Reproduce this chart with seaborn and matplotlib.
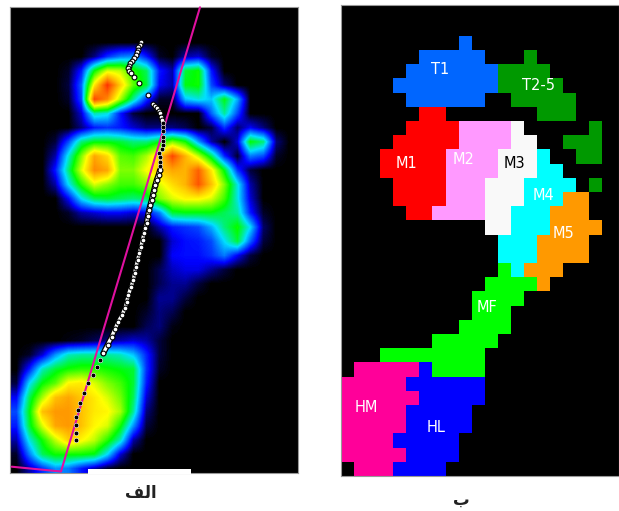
import numpy as np
import matplotlib
matplotlib.use("Agg")
import matplotlib.pyplot as plt
import seaborn as sns
from matplotlib.colors import LinearSegmentedColormap, ListedColormap
from matplotlib.patches import Rectangle

W, H = 619, 511

# peak pressure per sensor cell, 0-100
pressure = [
    [0, 0, 0, 0, 0, 0, 0, 0, 0, 0, 0, 0, 0, 0, 0, 0, 0, 0, 0, 0, 0, 0],
    [0, 0, 0, 0, 0, 0, 0, 0, 0, 0, 0, 0, 0, 0, 0, 0, 0, 0, 0, 0, 0, 0],
    [0, 0, 0, 0, 0, 0, 0, 0, 0, 0, 0, 0, 0, 0, 0, 0, 0, 0, 0, 0, 0, 0],
    [0, 0, 0, 0, 0, 0, 6, 16, 22, 24, 14, 2, 0, 8, 10, 2, 0, 0, 0, 0, 0, 0],
    [0, 0, 0, 0, 2, 14, 45, 62, 60, 48, 40, 14, 8, 42, 46, 14, 0, 0, 0, 0, 0, 0],
    [0, 0, 0, 0, 3, 20, 68, 95, 72, 52, 42, 12, 8, 44, 46, 18, 6, 0, 0, 0, 0, 0],
    [0, 0, 0, 0, 2, 18, 92, 82, 58, 36, 16, 2, 2, 28, 32, 28, 44, 26, 0, 0, 0, 0],
    [0, 0, 0, 0, 0, 10, 35, 32, 14, 3, 0, 0, 0, 0, 0, 20, 36, 18, 0, 0, 0, 0],
    [0, 0, 0, 0, 0, 6, 14, 16, 14, 10, 6, 6, 6, 4, 0, 3, 16, 5, 12, 6, 0, 0],
    [0, 0, 0, 3, 18, 38, 44, 44, 42, 38, 38, 44, 55, 46, 25, 8, 0, 10, 45, 38, 6, 0],
    [0, 0, 0, 8, 32, 55, 78, 70, 52, 50, 58, 72, 92, 76, 60, 40, 15, 2, 22, 18, 2, 0],
    [0, 0, 0, 14, 38, 62, 82, 78, 55, 55, 65, 72, 78, 76, 88, 68, 44, 16, 3, 0, 0, 0],
    [0, 0, 0, 8, 30, 48, 62, 56, 50, 50, 55, 62, 70, 76, 90, 74, 55, 32, 8, 0, 0, 0],
    [0, 0, 0, 0, 12, 30, 40, 42, 40, 38, 40, 55, 62, 66, 66, 62, 50, 32, 10, 0, 0, 0],
    [0, 0, 0, 0, 2, 8, 10, 12, 12, 10, 12, 22, 42, 44, 44, 44, 40, 36, 14, 2, 0, 0],
    [0, 0, 0, 0, 0, 0, 0, 0, 0, 0, 0, 8, 14, 16, 18, 26, 38, 46, 30, 5, 0, 0],
    [0, 0, 0, 0, 0, 0, 0, 0, 0, 0, 0, 0, 10, 13, 14, 18, 30, 42, 20, 3, 0, 0],
    [0, 0, 0, 0, 0, 0, 0, 0, 0, 0, 0, 0, 12, 13, 13, 16, 22, 12, 3, 0, 0, 0],
    [0, 0, 0, 0, 0, 0, 0, 0, 0, 0, 0, 4, 9, 11, 11, 7, 3, 0, 0, 0, 0, 0],
    [0, 0, 0, 0, 0, 0, 0, 0, 0, 0, 0, 4, 7, 7, 3, 0, 0, 0, 0, 0, 0, 0],
    [0, 0, 0, 0, 0, 0, 0, 0, 0, 0, 0, 7, 7, 3, 0, 0, 0, 0, 0, 0, 0, 0],
    [0, 0, 0, 0, 0, 0, 0, 0, 0, 0, 2, 6, 4, 0, 0, 0, 0, 0, 0, 0, 0, 0],
    [0, 0, 0, 0, 0, 0, 0, 0, 0, 0, 4, 6, 1, 0, 0, 0, 0, 0, 0, 0, 0, 0],
    [0, 0, 0, 0, 1, 2, 4, 6, 8, 10, 8, 3, 0, 0, 0, 0, 0, 0, 0, 0, 0, 0],
    [0, 2, 10, 24, 34, 36, 36, 36, 34, 28, 15, 3, 0, 0, 0, 0, 0, 0, 0, 0, 0, 0],
    [0, 14, 34, 42, 46, 48, 48, 46, 44, 42, 16, 2, 0, 0, 0, 0, 0, 0, 0, 0, 0, 0],
    [3, 30, 45, 52, 66, 68, 62, 55, 50, 42, 14, 0, 0, 0, 0, 0, 0, 0, 0, 0, 0, 0],
    [12, 40, 58, 74, 78, 73, 68, 62, 54, 40, 10, 0, 0, 0, 0, 0, 0, 0, 0, 0, 0, 0],
    [18, 44, 74, 80, 80, 74, 68, 66, 58, 36, 6, 0, 0, 0, 0, 0, 0, 0, 0, 0, 0, 0],
    [14, 42, 62, 78, 80, 74, 66, 62, 46, 24, 3, 0, 0, 0, 0, 0, 0, 0, 0, 0, 0, 0],
    [8, 32, 46, 60, 72, 66, 60, 48, 34, 8, 0, 0, 0, 0, 0, 0, 0, 0, 0, 0, 0, 0],
    [2, 22, 40, 46, 46, 46, 44, 30, 10, 0, 0, 0, 0, 0, 0, 0, 0, 0, 0, 0, 0, 0],
    [0, 8, 16, 24, 22, 14, 8, 2, 0, 0, 0, 0, 0, 0, 0, 0, 0, 0, 0, 0, 0, 0],
]
pressure_levels = [0, 12, 30, 45, 65, 80, 100]
pressure_colors = ["#000000", "#0000ff", "#00e0ff", "#00ff00", "#ffff00", "#ff9900", "#ff1000"]

# centre of pressure track and foot axis, in image pixels of the left panel
track_x = [140.7, 139.5, 138.3, 137.5, 136.7, 135.5, 134.3, 132, 130, 129, 128.3, 129.3, 130.7, 134, 139.3,
           148, 153.3, 155, 156.7, 158.5, 160, 161.3, 162.3, 162.6, 162.7, 162.7, 162.7, 162.8, 163, 161.5,
           159.3, 159.6, 160, 160, 160, 158.5, 156.7, 155.3, 154, 152.8, 151.7, 150.3, 149, 147.8, 146.7,
           145.3, 144, 142.5, 141, 139.3, 137.7, 136, 134.7, 133.3, 131, 128.3, 126.7, 125, 122, 118.3, 115,
           111.7, 107.5, 103.3, 100, 96.7, 92.5, 88.3, 84, 80, 78, 76, 76, 76, 76]
track_y = [41.7, 44.5, 47.3, 49.5, 51.7, 55, 58.3, 61, 63.3, 66, 68.3, 71, 73.3, 76.7, 83.3,
           94.7, 104, 106, 108.3, 111, 113.3, 116.5, 120, 123, 126.7, 131, 136.7, 141, 145, 149,
           152.7, 157, 161.7, 166, 170, 175, 180, 185, 190, 195, 200, 205, 210, 216, 223.3,
           228, 233.3, 240, 246.7, 253.3, 260, 266.7, 273, 280, 287, 295, 302, 308.3, 315, 321.7, 329,
           336.7, 345, 353.3, 360, 366.7, 375, 383.3, 393, 403.3, 410, 416.7, 425, 433, 440]
axis_x = [200, 61, 11.7]
axis_y = [7.3, 471.5, 466.7]

# plantar regions per sensor cell for the right panel
regions = [
    "......................",
    "......................",
    "......................",
    ".........T............",
    "......TTTTT...G.......",
    ".....TTTTTTTGGGG......",
    "....TTTTTTTTGGGGG.....",
    ".....TTTTTT..GGGGG....",
    "......AA.......GGG....",
    ".....AAAABBBBC.....G..",
    "....AAAAABBBBCC..GGG..",
    "...AAAAABBBBCCCD..GG..",
    "...AAAAABBBBCCCDD.....",
    "....AAAABBBCCCDDDD.G..",
    "....AAAABBBCCCDDDEE...",
    ".....AABBBBCCDDDEEE...",
    "...........CCDDDEEEE..",
    "............DDDEEEE...",
    "............DDDEEEE...",
    "............FDEEE.....",
    "...........FFFFE......",
    "..........FFFF........",
    "..........FFF.........",
    ".........FFFF.........",
    ".......FFFFF..........",
    "...FFFFFFFF...........",
    ".HHHHHLFFFF...........",
    "HHHHHLLLLLL...........",
    "HHHHHHLLLLL...........",
    "HHHHHLLLLL............",
    "HHHHHLLLLL............",
    "HHHHLLLLL.............",
    "HHHHHLLLL.............",
    ".HHHLLLL..............",
]
region_codes = ".TGABCDEFHL"
region_colors = ["#000000", "#0066ff", "#009900", "#ff0000", "#ff99ff", "#f9f9f9",
                 "#00ffff", "#ff9900", "#00ff00", "#ff0099", "#0000ff"]
region_names = ["T1", "T2-5", "M1", "M2", "M3", "M4", "M5", "MF", "HM", "HL"]
name_x = [440, 538, 406, 464, 514, 544, 564, 487, 366, 436]
name_y = [69, 86, 163, 159, 163, 195, 234, 307, 408, 427]
name_colors = ["white", "white", "white", "white", "black", "white", "white", "white", "white", "white"]


def panel(fig, left, top, right, bottom):
    return fig.add_axes([left / W, 1 - bottom / H, (right - left) / W, (bottom - top) / H])


sns.set_theme(style="white")
fig = plt.figure(figsize=(W / 100, H / 100), dpi=100, facecolor="white")

# left panel: pressure map
ax1 = panel(fig, 10, 7, 298, 473)
cmap = LinearSegmentedColormap.from_list(
    "pressure", [(v / 100, c) for v, c in zip(pressure_levels, pressure_colors)])
sns.heatmap(np.array(pressure), ax=ax1, cmap=cmap, vmin=0, vmax=100, cbar=False,
            xticklabels=False, yticklabels=False)
# the scanner output is smoothed, so show the same cells with bilinear resampling
mesh = ax1.collections[0]
mesh.set_visible(False)
rows, cols = np.array(pressure).shape
ax1.imshow(np.array(pressure), cmap=cmap, norm=mesh.norm, interpolation="bilinear",
           extent=(0, cols, rows, 0), aspect="auto")
ax1.set_facecolor("black")


def cell_x(px):
    return (np.array(px) - 10) / 13


def cell_y(py):
    return (np.array(py) - 7) / 14.2


tx, ty = np.array(track_x), np.array(track_y)
chain = (ty >= 170) & (ty <= 355)
dwell = ((ty >= 123) & (ty < 170)) | (ty > 355)

ax1.plot(cell_x(axis_x), cell_y(axis_y), color="#e0109f", lw=1.5, zorder=3, clip_on=False)
ax1.plot(cell_x(tx[chain]), cell_y(ty[chain]), color="black", lw=4.2, zorder=4)
ax1.plot(cell_x(tx[chain]), cell_y(ty[chain]), color="white", lw=2.4, zorder=4)
sns.scatterplot(x=cell_x(tx[~dwell]), y=cell_y(ty[~dwell]), ax=ax1, s=12, color="white",
                edgecolor="black", linewidth=0.8, zorder=5, legend=False)
sns.scatterplot(x=cell_x(tx[dwell]), y=cell_y(ty[dwell]), ax=ax1, s=11, color="black",
                edgecolor="white", linewidth=0.4, zorder=5, legend=False)
ax1.set_xlim(0, 288 / 13)
ax1.set_ylim(466 / 14.2, 0)
ax1.add_patch(Rectangle((88 / W, 1 - 474 / H), 103 / W, 5 / H, transform=fig.transFigure,
                        facecolor="white", edgecolor="none", zorder=6, clip_on=False))

# right panel: regions
ax2 = panel(fig, 341, 5, 619, 476)
region_grid = np.array([[region_codes.index(c) for c in row] for row in regions])
sns.heatmap(region_grid, ax=ax2, cmap=ListedColormap(region_colors), vmin=-0.5,
            vmax=len(region_colors) - 0.5, cbar=False, xticklabels=False, yticklabels=False)
ax2.set_xlim(0, 278 / 13.07)
ax2.set_ylim(34, 34 - 471 / 14.2)

for ax in (ax1, ax2):
    for spine in ax.spines.values():
        spine.set_visible(True)
        spine.set_color("#999999")
        spine.set_linewidth(0.8)

for name, x, y, color in zip(region_names, name_x, name_y, name_colors):
    fig.text(x / W, 1 - y / H, name, color=color, fontsize=10.5, ha="center", va="center",
             family="DejaVu Sans")

# captions: presentation forms in visual order, matplotlib does no Arabic shaping
fig.text(141 / W, 1 - 493 / H, "\ufed2\ufedf\ufe8d", fontsize=12, fontweight="bold", color="#222222",
         ha="center", va="center", family="DejaVu Sans")
fig.text(461 / W, 1 - 500 / H, "\u0628", fontsize=12, fontweight="bold", color="#222222",
         ha="center", va="center", family="DejaVu Sans")

fig.savefig("out.png", dpi=100)
